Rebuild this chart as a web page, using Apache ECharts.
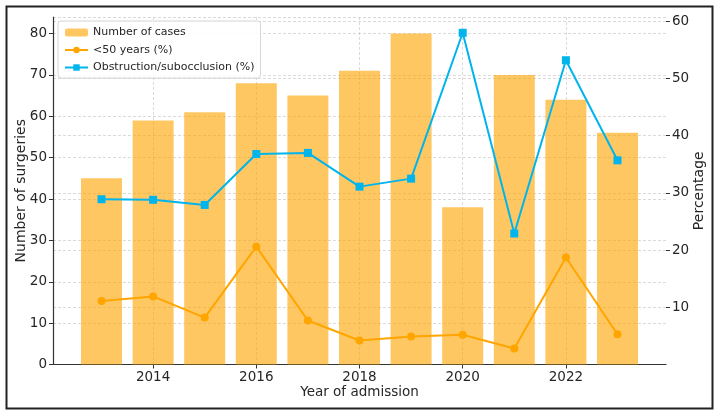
<!DOCTYPE html>
<html>
<head>
<meta charset="utf-8">
<script src="https://cdn.jsdelivr.net/npm/echarts@6/dist/echarts.min.js"></script>
<style>
  html, body { margin: 0; padding: 0; background: #fff; }
  #chart { width: 723px; height: 417px; }
</style>
</head>
<body>
<div id="chart"></div>
<script>
const years = [2013, 2014, 2015, 2016, 2017, 2018, 2019, 2020, 2021, 2022, 2023];
const cases = [45, 59, 61, 68, 65, 71, 80, 38, 70, 64, 56];
const under50 = [11.1, 11.9, 8.2, 20.6, 7.7, 4.2, 4.9, 5.2, 2.8, 18.7, 5.3];
const obstruction = [28.9, 28.8, 27.9, 36.8, 37.0, 31.1, 32.5, 58.0, 22.9, 53.2, 35.7];
const xTicks = [2014, 2016, 2018, 2020, 2022];
const pctTicks = [10, 20, 30, 40, 50, 60];

const font = 'DejaVu Sans';
const textColor = '#262626';
const gridLine = { show: true, lineStyle: { color: '#d0d0d0', type: [3, 2], width: 0.8 } };

const pairs = (vals) => years.map((y, i) => [y, vals[i]]);

const chart = echarts.init(document.getElementById('chart'));

const option = {
  animation: false,
  textStyle: { fontFamily: font },
  graphic: [{
    type: 'rect',
    shape: { x: 6.5, y: 6.5, width: 706, height: 402 },
    style: { fill: 'none', stroke: '#222', lineWidth: 2 },
    z: 100
  }],
  legend: {
    left: 58,
    top: 21,
    orient: 'vertical',
    itemWidth: 23,
    itemHeight: 8,
    itemGap: 6.5,
    padding: [6, 6, 5, 6],
    backgroundColor: 'rgba(255,255,255,0.85)',
    borderColor: '#d6d6d6',
    borderWidth: 1,
    borderRadius: 3,
    textStyle: { fontFamily: font, fontSize: 11, color: textColor },
    data: ['Number of cases', '<50 years (%)', 'Obstruction/subocclusion (%)']
  },
  grid: { left: 53, right: 57, top: 17, bottom: 52.5 },
  xAxis: {
    type: 'value',
    min: 2012.06,
    max: 2023.94,
    name: 'Year of admission',
    nameLocation: 'middle',
    nameGap: 21,
    nameMoveOverlap: false,
    nameTextStyle: { fontFamily: font, fontSize: 13.5, color: textColor },
    axisLine: { lineStyle: { color: '#333', width: 1.2 } },
    axisTick: { show: true, length: 4, customValues: xTicks, lineStyle: { color: '#333' } },
    axisLabel: {
      customValues: xTicks,
      formatter: (v) => String(v),
      fontFamily: font, fontSize: 13.5, color: textColor, margin: 6
    },
    splitLine: gridLine
  },
  yAxis: [{
    type: 'value',
    min: 0,
    max: 84,
    interval: 10,
    name: 'Number of surgeries',
    nameLocation: 'middle',
    nameGap: 25,
    nameMoveOverlap: false,
    nameTextStyle: { fontFamily: font, fontSize: 14, color: textColor },
    axisLine: { show: true, lineStyle: { color: '#333', width: 1.2 } },
    axisTick: { show: true, length: 4, lineStyle: { color: '#333' } },
    axisLabel: { fontFamily: font, fontSize: 13.5, color: textColor, margin: 6, showMaxLabel: false },
    splitLine: gridLine
  }, {
    type: 'value',
    min: 0,
    max: 60.76,
    name: 'Percentage',
    nameLocation: 'middle',
    nameGap: 26,
    nameMoveOverlap: false,
    nameTextStyle: { fontFamily: font, fontSize: 14, color: textColor },
    axisLine: { show: false },
    axisTick: { show: true, length: 4, customValues: pctTicks, lineStyle: { color: '#333' } },
    axisLabel: { customValues: pctTicks, fontFamily: font, fontSize: 13.5, color: textColor, margin: 6 },
    splitLine: gridLine
  }],
  series: [{
    name: 'Number of cases',
    type: 'bar',
    yAxisIndex: 0,
    barWidth: 41,
    itemStyle: { color: 'rgba(255,165,0,0.62)' },
    data: pairs(cases)
  }, {
    name: '<50 years (%)',
    type: 'line',
    yAxisIndex: 1,
    symbol: 'circle',
    symbolSize: 8,
    lineStyle: { color: '#ffa500', width: 2 },
    itemStyle: { color: '#ffa500' },
    data: pairs(under50)
  }, {
    name: 'Obstruction/subocclusion (%)',
    type: 'line',
    yAxisIndex: 1,
    symbol: 'rect',
    symbolSize: 8,
    lineStyle: { color: '#00b4ec', width: 2 },
    itemStyle: { color: '#00b4ec' },
    data: pairs(obstruction)
  }]
};

chart.setOption(option);
window.addEventListener('resize', () => chart.resize());
</script>
</body>
</html>
